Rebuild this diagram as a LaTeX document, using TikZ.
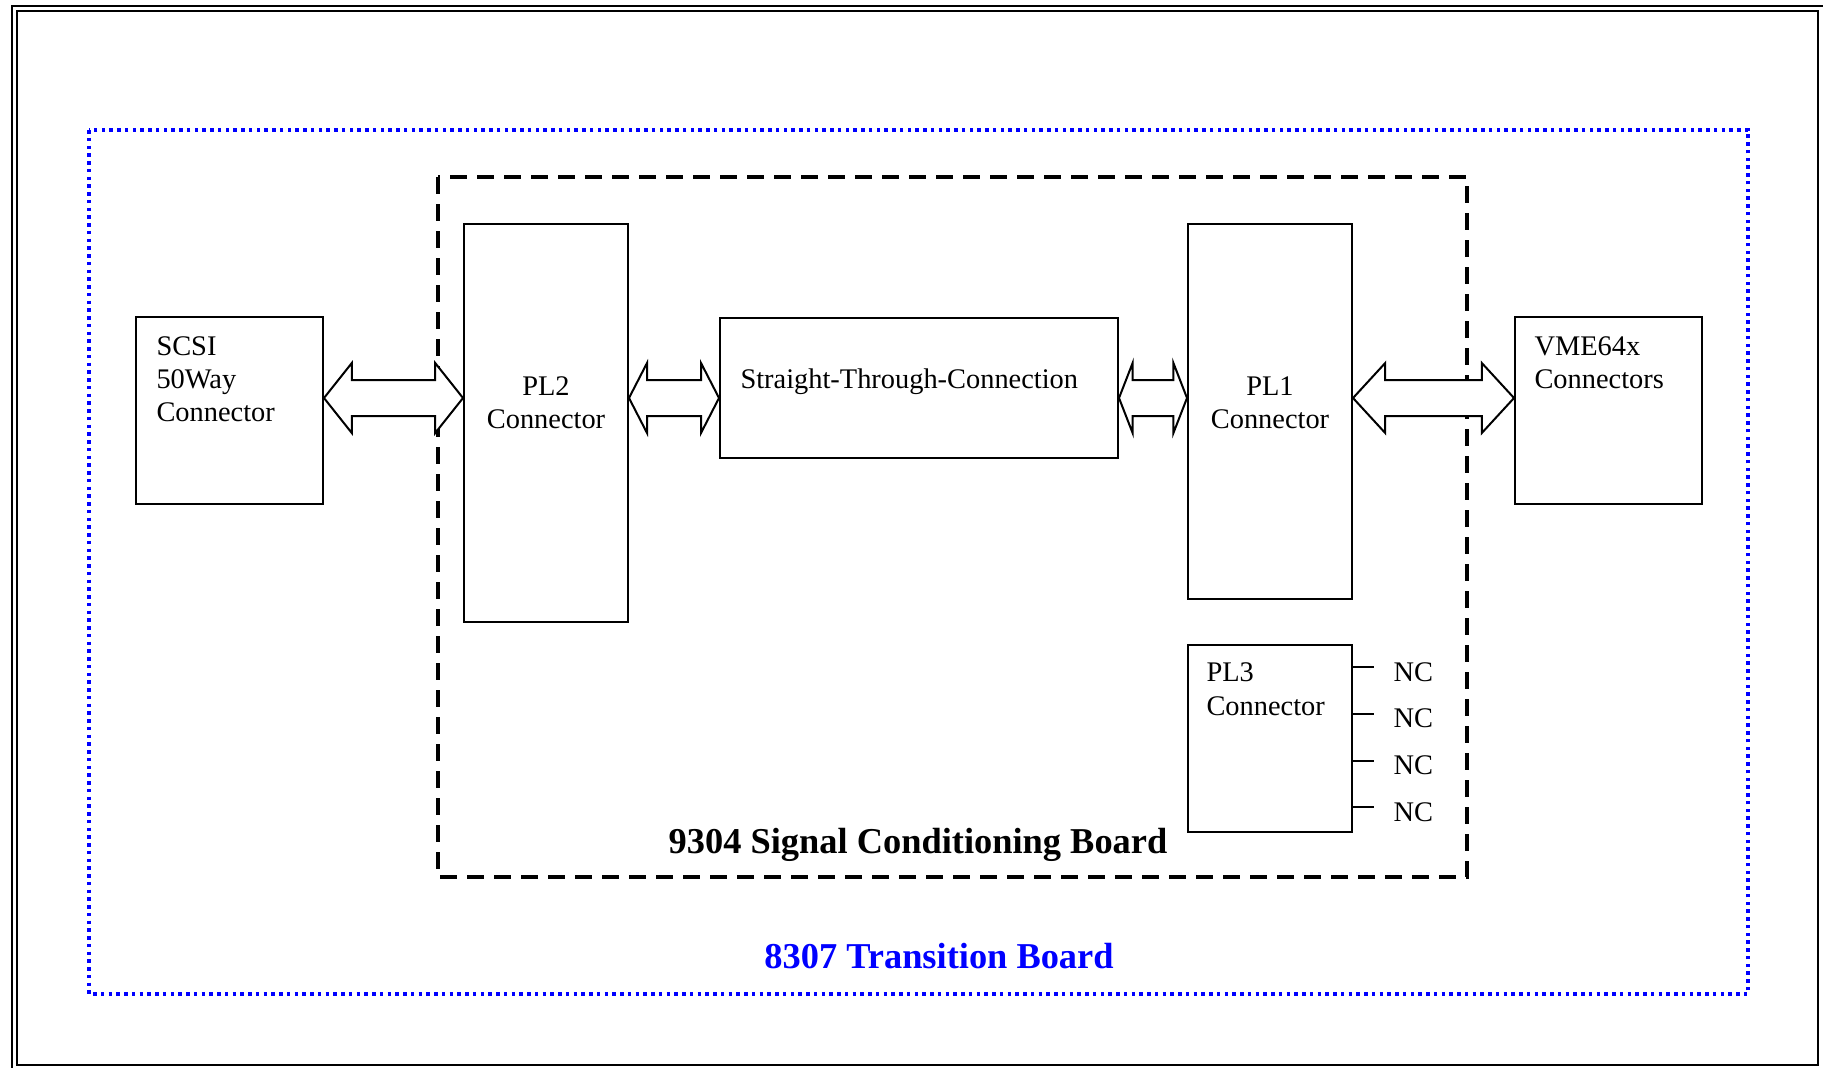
\documentclass[tikz,border=0pt]{standalone}
\usepackage{fontspec}
\setmainfont{Liberation Serif}
\usetikzlibrary{calc}
\definecolor{boardblue}{RGB}{0,0,255}
\tikzset{
  box/.style={draw=black, line width=0.8pt, fill=white, inner sep=0pt},
  lbl/.style={inner sep=0pt, anchor=base west, font=\fontsize{11.36}{13.2}\selectfont},
  clbl/.style={inner sep=0pt, anchor=base, font=\fontsize{11.36}{13.2}\selectfont},
  title/.style={inner sep=0pt, anchor=base, font=\fontsize{14.56}{17}\selectfont\bfseries},
  blockarrow/.style={draw=black, line width=0.8pt, fill=white, line join=miter},
  board/.style={draw=black, line width=1.3pt, dash pattern=on 6.8pt off 4pt},
  transition/.style={draw=boardblue, line width=1.4pt, dash pattern=on 1.4pt off 1.7pt},
  frame/.style={draw=black, line width=1pt},
  ncline/.style={draw=black, line width=0.7pt}
}
\newcommand{\dblarrow}[2]{%
  \path[blockarrow] let \p1=(#1), \p2=(#2), \n1={0.2*(\x2-\x1)} in
  (\x1,\y1) -- (\x1+\n1,\y1+14pt) -- (\x1+\n1,\y1+7.2pt) -- (\x2-\n1,\y1+7.2pt)
  -- (\x2-\n1,\y1+14pt) -- (\x2,\y1) -- (\x2-\n1,\y1-14pt) -- (\x2-\n1,\y1-7.2pt)
  -- (\x1+\n1,\y1-7.2pt) -- (\x1+\n1,\y1-14pt) -- cycle;}
\begin{document}
\begin{tikzpicture}[x=0.4pt, y=-0.4pt]
\useasboundingbox (0,0) rectangle (1823,1067);
% page frame
\draw[frame] (12,6) rectangle (1840,1090);
\draw[frame] (17,11) rectangle (1818,1065);
% 8307 transition board
\draw[transition] (89,130) rectangle (1748,994);
% 9304 board
\draw[board] (438,177) rectangle (1467,877);
% boxes
\node[box, minimum width=187*0.4pt, minimum height=187*0.4pt, anchor=north west] (scsi) at (135,316) {};
\node[box, minimum width=164*0.4pt, minimum height=398*0.4pt, anchor=north west] (pl2) at (463,223) {};
\node[box, minimum width=398*0.4pt, minimum height=140*0.4pt, anchor=north west] (st) at (719,317) {};
\node[box, minimum width=164*0.4pt, minimum height=375*0.4pt, anchor=north west] (pl1) at (1187,223) {};
\node[box, minimum width=164*0.4pt, minimum height=187*0.4pt, anchor=north west] (pl3) at (1187,644) {};
\node[box, minimum width=187*0.4pt, minimum height=187*0.4pt, anchor=north west] (vme) at (1514,316) {};
% labels
\node[lbl] (scsiA) at (156,355) {SCSI};
\node[lbl] (scsiB) at (156,388) {50Way};
\node[lbl] (scsiC) at (156,421) {Connector};
\node[clbl] (pl2A) at (pl2.center |- 0,395) {PL2};
\node[clbl] (pl2B) at (pl2.center |- 0,428) {Connector};
\node[lbl] (stA) at (740,388) {Straight-Through-Connection};
\node[clbl] (pl1A) at (pl1.center |- 0,395) {PL1};
\node[clbl] (pl1B) at (pl1.center |- 0,428) {Connector};
\node[lbl] (vmeA) at (1534,355) {VME64x};
\node[lbl] (vmeB) at (1534,388) {Connectors};
\node[lbl] (pl3A) at (1206,681) {PL3};
\node[lbl] (pl3B) at (1206,715) {Connector};
% NC pins
\foreach \i/\yl/\yb in {1/667/681, 2/714/727, 3/761/774, 4/807/821}{
  \coordinate (ncs\i) at (pl3.east |- 0,\yl);
  \coordinate (nce\i) at (1374,\yl);
  \draw[ncline] (ncs\i) -- (nce\i);
  \node[lbl] (nc\i) at (1393,\yb) {NC};
}
% arrows
\coordinate (ay) at (0,398);
\coordinate (a1s) at (scsi.east |- ay);
\coordinate (a1e) at (pl2.west |- ay);
\coordinate (a2s) at (pl2.east |- ay);
\coordinate (a2e) at (st.west |- ay);
\coordinate (a3s) at (st.east |- ay);
\coordinate (a3e) at (pl1.west |- ay);
\coordinate (a4s) at (pl1.east |- ay);
\coordinate (a4e) at (vme.west |- ay);
\dblarrow{a1s}{a1e}
\dblarrow{a2s}{a2e}
\dblarrow{a3s}{a3e}
\dblarrow{a4s}{a4e}
% titles
\node[title] (t9304) at (918,853) {9304 Signal Conditioning Board};
\node[title, text=boardblue] (t8307) at (939,968) {8307 Transition Board};
\end{tikzpicture}
\end{document}
